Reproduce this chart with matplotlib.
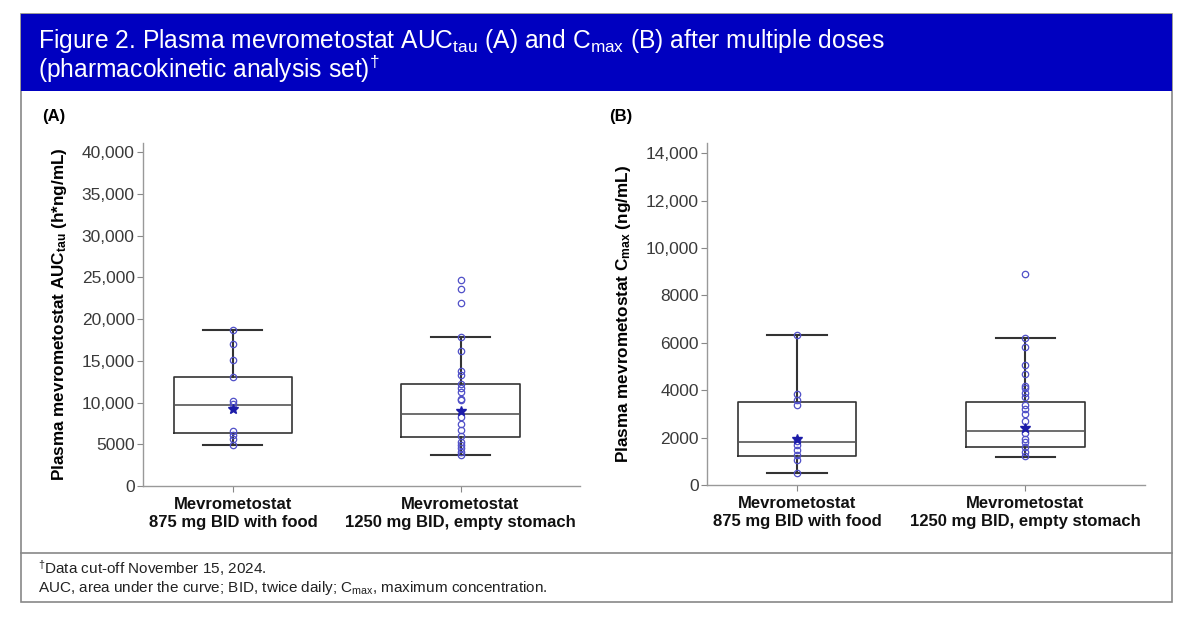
import matplotlib
matplotlib.use("Agg")
import matplotlib.pyplot as plt
from matplotlib.patches import Rectangle
from matplotlib.lines import Line2D
from matplotlib.ticker import FuncFormatter

plt.rcParams['font.family'] = ['Liberation Sans', 'DejaVu Sans']
plt.rcParams['mathtext.fontset'] = 'custom'
plt.rcParams['mathtext.rm'] = 'Liberation Sans'
plt.rcParams['mathtext.bf'] = 'Liberation Sans:bold'
plt.rcParams['mathtext.it'] = 'Liberation Sans:italic'

# ---------------- data ----------------
categories = ["Mevrometostat\n875 mg BID with food",
              "Mevrometostat\n1250 mg BID, empty stomach"]

# Panel A: AUCtau (h*ng/mL)
auc_q1 = [6350, 5900]
auc_med = [9700, 8600]
auc_q3 = [13050, 12200]
auc_whislo = [4900, 3750]
auc_whishi = [18650, 17850]
auc_mean = [9200, 9000]
auc_points_875 = [18650, 16950, 15100, 13050, 10150, 9800,
                  6600, 6100, 5600, 4900]
auc_points_1250 = [24650, 23650, 21900, 17850, 16150, 13750, 13350,
                   12200, 11750, 11200, 10400, 10300, 8300, 7450,
                   6750, 6000, 5300, 4900, 4500, 4100, 3750]

# Panel B: Cmax (ng/mL)
cmax_q1 = [1210, 1590]
cmax_med = [1800, 2260]
cmax_q3 = [3490, 3500]
cmax_whislo = [500, 1200]
cmax_whishi = [6330, 6220]
cmax_mean = [1930, 2400]
cmax_points_875 = [6330, 3850, 3590, 3360, 1850, 1670, 1460,
                   1270, 1070, 500]
cmax_points_1250 = [8900, 6220, 5840, 5050, 4680, 4180, 4110, 3900,
                    3710, 3380, 3210, 3000, 2710, 2210, 1930, 1810,
                    1590, 1410, 1240]

auc_yticks = [0, 5000, 10000, 15000, 20000, 25000, 30000, 35000, 40000]
cmax_yticks = [0, 2000, 4000, 6000, 8000, 10000, 12000, 14000]

# ---------------- figure ----------------
W, H = 1200, 619
fig = plt.figure(figsize=(W / 100, H / 100), dpi=100)

def fx(px):
    return px / W

def fy(py):
    return 1 - py / H

# frame and header
fig.patches.append(Rectangle((fx(21), fy(602)), fx(1172) - fx(21), fy(14) - fy(602),
                             transform=fig.transFigure, facecolor='white',
                             edgecolor='#888888', linewidth=1.2, zorder=-10))
fig.patches.append(Rectangle((fx(21), fy(91)), fx(1172) - fx(21), fy(14) - fy(91),
                             transform=fig.transFigure, facecolor='#0000C0',
                             edgecolor='#0000C0', linewidth=0, zorder=-5))
fig.lines.append(Line2D([fx(21), fx(1172)], [fy(553), fy(553)],
                        transform=fig.transFigure, color='#888888', linewidth=1.2))

fig.text(fx(38), fy(41), r"Figure 2. Plasma mevrometostat AUC$_{\mathregular{tau}}$ (A) and C$_{\mathregular{max}}$ (B) after multiple doses",
         color='white', fontsize=17.7, va='center', ha='left')
fig.text(fx(38), fy(69), r"(pharmacokinetic analysis set)$^{\mathregular{\dagger}}$",
         color='white', fontsize=17.7, va='center', ha='left')

fig.text(fx(38), fy(568), r"$^{\mathregular{\dagger}}$Data cut-off November 15, 2024.",
         color='#222222', fontsize=11, va='center', ha='left')
fig.text(fx(38), fy(588), r"AUC, area under the curve; BID, twice daily; C$_{\mathregular{max}}$, maximum concentration.",
         color='#222222', fontsize=11, va='center', ha='left')

fig.text(fx(42), fy(116), "(A)", fontsize=12, fontweight='bold', va='center', ha='left')
fig.text(fx(609), fy(116), "(B)", fontsize=12, fontweight='bold', va='center', ha='left')


def fmt(v, pos):
    v = int(round(v))
    return f"{v:,}" if v >= 10000 else f"{v}"


def panel(ax, q1, med, q3, lo, hi, mean, pts_lists, ylim, yticks, ylabel, lpad):
    stats = []
    for i in range(2):
        stats.append(dict(med=med[i], q1=q1[i], q3=q3[i], whislo=lo[i],
                          whishi=hi[i], fliers=[], mean=mean[i]))
    lc = '#333333'
    ax.bxp(stats, positions=[1, 2], widths=0.52, showfliers=False,
           showmeans=False, patch_artist=False,
           boxprops=dict(color=lc, linewidth=1.2),
           medianprops=dict(color='#555555', linewidth=1.2),
           whiskerprops=dict(color=lc, linewidth=1.5),
           capprops=dict(color=lc, linewidth=1.5),
           capwidths=0.26)
    for i, pts in enumerate(pts_lists):
        ax.plot([i + 1] * len(pts), pts, linestyle='none', marker='o',
                markersize=4.6, markerfacecolor='none',
                markeredgecolor='#5050C8', markeredgewidth=0.9, zorder=3)
        ax.plot([i + 1], [mean[i]], linestyle='none', marker='*',
                markersize=7, color='#1C1CA8', zorder=4)
    ax.set_facecolor('none')
    ax.set_xlim(0.605, 2.525)
    ax.set_ylim(*ylim)
    ax.set_yticks(yticks)
    ax.yaxis.set_major_formatter(FuncFormatter(fmt))
    ax.set_xticks([1, 2])
    ax.set_xticklabels(categories, fontweight='bold', fontsize=12, color='#111111')
    ax.tick_params(axis='y', labelsize=12.5, labelcolor='#3a3a3a', color='#888888',
                   length=4, width=0.8, pad=2)
    ax.tick_params(axis='x', color='#888888', length=4, width=0.8, pad=4)
    for s in ['top', 'right']:
        ax.spines[s].set_visible(False)
    for s in ['left', 'bottom']:
        ax.spines[s].set_color('#999999')
        ax.spines[s].set_linewidth(1.0)
    ax.set_ylabel(ylabel, fontsize=12.3, fontweight='bold', labelpad=lpad)


axA = fig.add_axes([fx(143), fy(486), fx(580) - fx(143), fy(143) - fy(486)])
panel(axA, auc_q1, auc_med, auc_q3, auc_whislo, auc_whishi, auc_mean,
      [auc_points_875, auc_points_1250], (0, 41080), auc_yticks,
      r"Plasma mevrometostat AUC$_{\mathbf{tau}}$ (h*ng/mL)", 9)

axB = fig.add_axes([fx(707), fy(485), fx(1145) - fx(707), fy(143) - fy(485)])
panel(axB, cmax_q1, cmax_med, cmax_q3, cmax_whislo, cmax_whishi, cmax_mean,
      [cmax_points_875, cmax_points_1250], (0, 14430), cmax_yticks,
      r"Plasma mevrometostat C$_{\mathbf{max}}$ (ng/mL)", 9)

fig.savefig("out.png", dpi=100)
